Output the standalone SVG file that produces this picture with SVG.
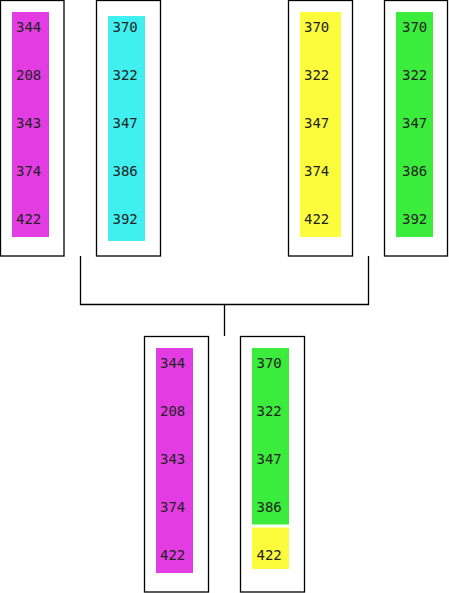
<svg xmlns="http://www.w3.org/2000/svg" width="449" height="593" viewBox="0 0 449 593">
<style>
.box{fill:#fff;stroke:#000;stroke-width:1.3}
.t{font-family:"DejaVu Sans Mono","Liberation Mono",monospace;font-size:14px;fill:#222}
.c{fill:none;stroke:#000;stroke-width:1.3}
.m{fill:#e23ce2}
.cy{fill:#40f0f0}
.y{fill:#fcfc3c}
.g{fill:#3cec3c}
</style>
<rect width="449" height="593" fill="#fff"/>
<g id="connectors">
<path class="c" d="M80.5,256 V304.5 H368.5 V256"/>
<path class="c" d="M224.5,304.5 V336"/>
</g>
<g id="node1">
<rect class="box" x="0.5" y="0.5" width="63.5" height="255.5"/>
<rect class="m" x="12" y="12" width="37" height="225"/>
<text class="t" x="16" y="32">344</text><text class="t" x="16" y="80">208</text><text class="t" x="16" y="128">343</text><text class="t" x="16" y="176">374</text><text class="t" x="16" y="224">422</text>
</g>
<g id="node2">
<rect class="box" x="96.5" y="0.5" width="64" height="255.5"/>
<rect class="cy" x="108" y="16" width="37" height="225"/>
<text class="t" x="112.5" y="32">370</text><text class="t" x="112.5" y="80">322</text><text class="t" x="112.5" y="128">347</text><text class="t" x="112.5" y="176">386</text><text class="t" x="112.5" y="224">392</text>
</g>
<g id="node3">
<rect class="box" x="288.5" y="0.5" width="64" height="255.5"/>
<rect class="y" x="300" y="12" width="41" height="225"/>
<text class="t" x="304" y="32">370</text><text class="t" x="304" y="80">322</text><text class="t" x="304" y="128">347</text><text class="t" x="304" y="176">374</text><text class="t" x="304" y="224">422</text>
</g>
<g id="node4">
<rect class="box" x="384.5" y="0.5" width="63" height="255.5"/>
<rect class="g" x="396" y="12" width="37" height="225"/>
<text class="t" x="402" y="32">370</text><text class="t" x="402" y="80">322</text><text class="t" x="402" y="128">347</text><text class="t" x="402" y="176">386</text><text class="t" x="402" y="224">392</text>
</g>
<g id="node5">
<rect class="box" x="144.5" y="336.5" width="64" height="255.5"/>
<rect class="m" x="156" y="348" width="37" height="225"/>
<text class="t" x="160" y="368">344</text><text class="t" x="160" y="416">208</text><text class="t" x="160" y="464">343</text><text class="t" x="160" y="512">374</text><text class="t" x="160" y="560">422</text>
</g>
<g id="node6">
<rect class="box" x="240.5" y="336.5" width="64" height="255.5"/>
<rect class="g" x="252" y="348" width="37" height="176.5"/>
<rect class="y" x="252" y="527.5" width="37" height="41.5"/>
<text class="t" x="256.5" y="368">370</text><text class="t" x="256.5" y="416">322</text><text class="t" x="256.5" y="464">347</text><text class="t" x="256.5" y="512">386</text><text class="t" x="256.5" y="560">422</text>
</g>
</svg>
